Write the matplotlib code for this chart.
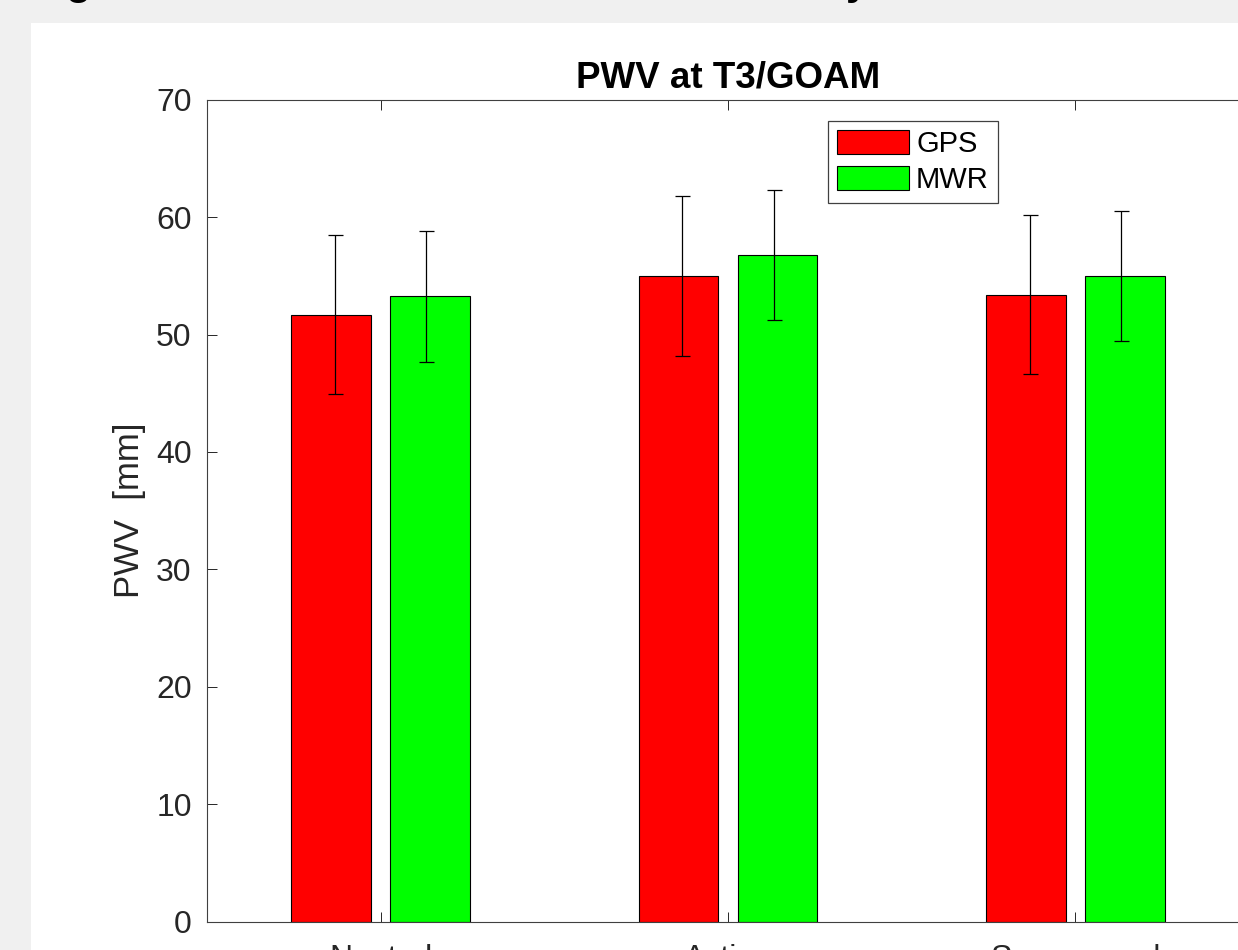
import numpy as np
import matplotlib
matplotlib.use("Agg")
import matplotlib.pyplot as plt
from matplotlib.patches import Rectangle

# values
categories	= ["Neutral", "Active", "Suppressed"]
gps		= [51.7, 55.0, 53.4]
mwr		= [53.25, 56.75, 55.0]
gps_err		= [6.8, 6.8, 6.8]
mwr_err		= [5.55, 5.55, 5.55]
yticks		= [0, 10, 20, 30, 40, 50, 60, 70]

plt.rcParams["font.family"] = ["Liberation Sans", "DejaVu Sans"]

fig = plt.figure(figsize=(12.38, 9.5), dpi=100)
fig.patch.set_facecolor("#f0f0f0")
# white canvas of the matlab figure window
fig.patches.append(Rectangle((31/1238, 0), 1, (950-23)/950, transform=fig.transFigure,
				facecolor="white", edgecolor="none", zorder=-5))

# descenders of the cut off heading above the window
fig.text(65/1238, 1 + 6/950, "g", fontsize=30, fontweight="bold", va="baseline", color="black")
fig.text(846/1238, 1 + 6/950, "y", fontsize=30, fontweight="bold", va="baseline", color="black")

ax = fig.add_axes([207/1238, (950-921.7)/950, 1042/1238, 822/950])
ax.set_facecolor("white")

x = np.arange(1, len(categories)+1)
w = 0.229
ax.bar(x - 0.1428, gps, w, color="#ff0000", edgecolor="black", linewidth=0.8, label="GPS", zorder=2)
ax.bar(x + 0.1425, mwr, w, color="#00ff00", edgecolor="black", linewidth=0.8, label="MWR", zorder=2)
ax.errorbar(x - 0.1315, gps, yerr=gps_err, fmt="none", ecolor="black", elinewidth=0.9, capsize=5.4, capthick=0.9, zorder=3)
ax.errorbar(x + 0.1315, mwr, yerr=mwr_err, fmt="none", ecolor="black", elinewidth=0.9, capsize=5.4, capthick=0.9, zorder=3)

ax.set_xlim(0.5, 3.5)
ax.set_ylim(0, 70)
ax.set_xticks(x)
ax.set_xticklabels(categories)
ax.set_yticks(yticks)
ax.tick_params(direction="in", length=7.2, width=0.7, color="#262626", labelsize=23,
		labelcolor="#262626", top=True, right=True)
ax.tick_params(axis="x", pad=16)
ax.tick_params(axis="y", pad=11)
for s in ax.spines.values():
	s.set_color("#404040")
	s.set_linewidth(0.8)

ax.set_title("PWV at T3/GOAM", fontsize=26.5, fontweight="bold", pad=9)
ax.set_ylabel("PWV  [mm]", fontsize=25, color="#262626", labelpad=7)

leg = ax.legend(loc="upper left", bbox_to_anchor=(828/1238, 1 - 121/950), bbox_transform=fig.transFigure,
		borderaxespad=0, fontsize=21, fancybox=False, framealpha=1, edgecolor="#404040",
		handlelength=2.48, handleheight=0.9, handletextpad=0.24, labelspacing=0.28, borderpad=0.3)
leg.get_frame().set_linewidth(0.9)

fig.savefig("out.png", dpi=100, facecolor=fig.get_facecolor())
